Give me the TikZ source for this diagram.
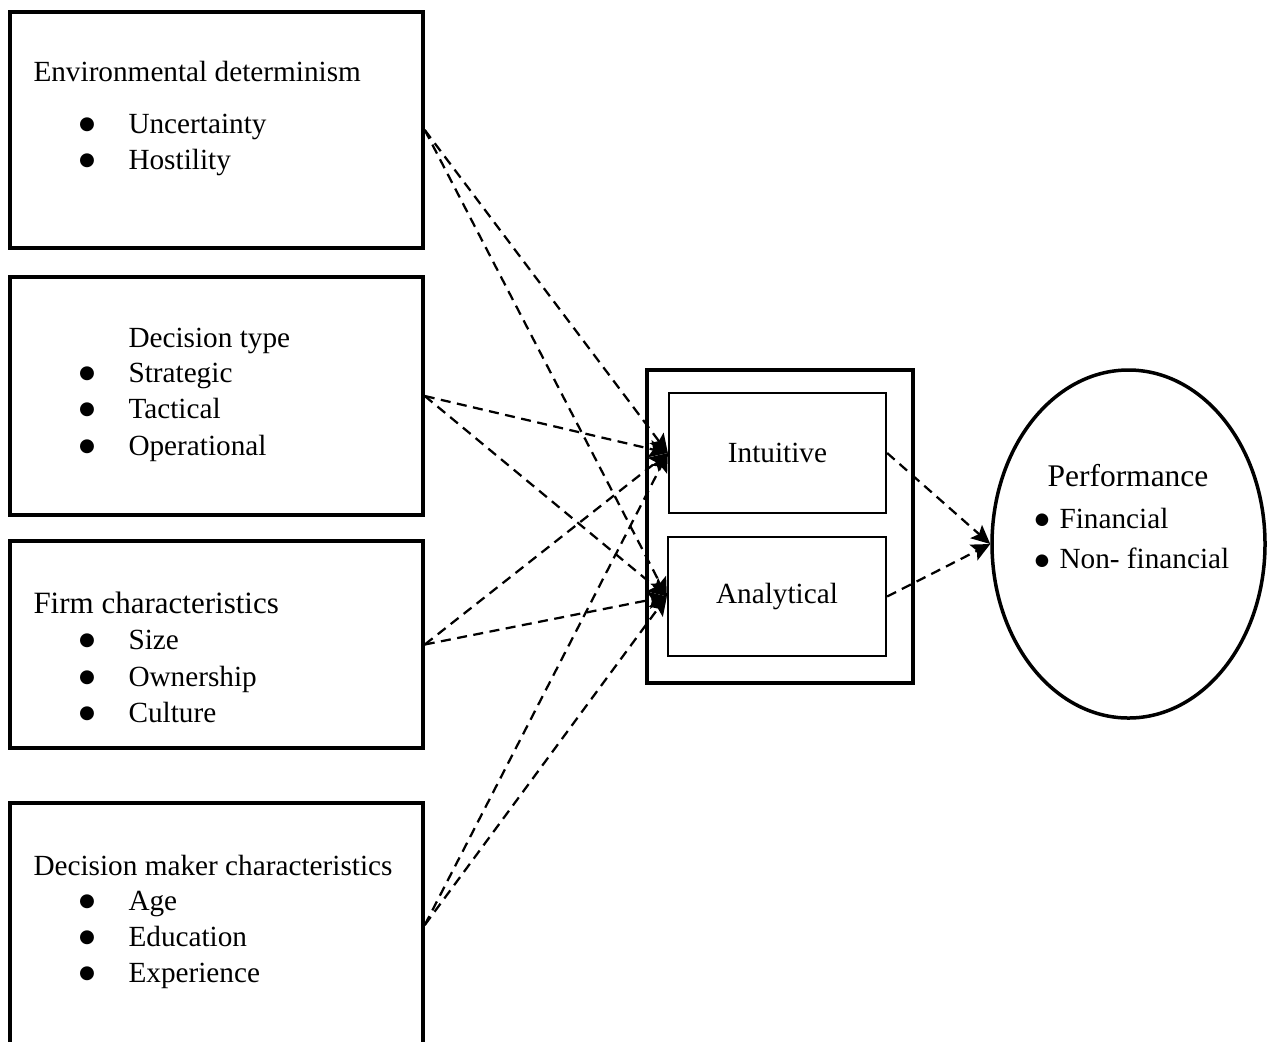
\documentclass[tikz,border=0pt]{standalone}
\usepackage{fontspec}
\setmainfont{Liberation Serif}
\newfontfamily\symfont{DejaVu Sans}
\usetikzlibrary{arrows.meta,shapes.geometric}
\begin{document}
\begin{tikzpicture}[x=0.4pt,y=-0.4pt,
  outerbox/.style={draw, line width=1.4pt, inner sep=0pt},
  innerbox/.style={draw, line width=0.9pt, inner sep=0pt, font=\fontsize{11.7}{14}\selectfont},
  txt/.style={anchor=base west, inner sep=0pt, font=\fontsize{11.7}{14}\selectfont},
  dot/.style={anchor=base, inner sep=0pt, font=\symfont\fontsize{7.3}{8}\selectfont},
  pdot/.style={anchor=base, inner sep=0pt, font=\symfont\fontsize{6.6}{7}\selectfont},
  dep/.style={line width=0.9pt, dash pattern=on 4pt off 2.6pt,
    -{Stealth[length=7.5pt,width=7pt,inset=1.5pt]}}
]
\clip (0,0) rectangle (1270,1041);

% factor boxes on the left
\node[outerbox, minimum width=165.2pt, minimum height=94.4pt] (env) at (216.5,130) {};
\node[outerbox, minimum width=165.2pt, minimum height=95.2pt] (dtype) at (216.5,396) {};
\node[outerbox, minimum width=165.2pt, minimum height=82.8pt] (firm) at (216.5,644.5) {};
\node[outerbox, minimum width=165.2pt, minimum height=97.6pt] (maker) at (216.5,925) {};

% environmental determinism
\node[txt] (envh) at (33,81) {Environmental determinism};
\node[dot] (envb1) at (87,129) {●};
\node[txt] (envi1) at (128,133) {Uncertainty};
\node[dot] (envb2) at (87,165) {●};
\node[txt] (envi2) at (128,169) {Hostility};

% decision type
\node[txt] (dth) at (128,347) {Decision type};
\node[dot] (dtb1) at (87,378) {●};
\node[txt] (dti1) at (128,382) {Strategic};
\node[dot] (dtb2) at (87,414) {●};
\node[txt] (dti2) at (128,418) {Tactical};
\node[dot] (dtb3) at (87,451) {●};
\node[txt] (dti3) at (128,455) {Operational};

% firm characteristics
\node[txt, font=\fontsize{12.4}{15}\selectfont] (fch) at (33,613) {Firm characteristics};
\node[dot] (fcb1) at (87,645) {●};
\node[txt] (fci1) at (128,649) {Size};
\node[dot] (fcb2) at (87,682) {●};
\node[txt] (fci2) at (128,686) {Ownership};
\node[dot] (fcb3) at (87,718) {●};
\node[txt] (fci3) at (128,722) {Culture};

% decision maker characteristics
\node[txt] (dmh) at (33,875) {Decision maker characteristics};
\node[dot] (dmb1) at (87,906) {●};
\node[txt] (dmi1) at (128,910) {Age};
\node[dot] (dmb2) at (87,942) {●};
\node[txt] (dmi2) at (128,946) {Education};
\node[dot] (dmb3) at (87,978) {●};
\node[txt] (dmi3) at (128,982) {Experience};

% decision styles
\node[outerbox, minimum width=106.4pt, minimum height=125.2pt] (style) at (780,526.5) {};
\node[innerbox, minimum width=86.8pt, minimum height=48pt] (int) at (777.5,453) {Intuitive};
\node[innerbox, minimum width=87.2pt, minimum height=47.6pt] (ana) at (777,596.5) {Analytical};

% performance
\node[draw, ellipse, line width=1.4pt, inner sep=0pt,
      minimum width=109.2pt, minimum height=139.2pt] (perf) at (1128.5,544) {};
\node[txt, font=\fontsize{12.6}{15}\selectfont] (perfh) at (1047,486) {Performance};
\node[pdot] (pb1) at (1042,524) {●};
\node[txt] (pi1) at (1059,528) {Financial};
\node[pdot] (pb2) at (1042,565) {●};
\node[txt] (pi2) at (1059,568) {Non- financial};

% relationships
\foreach \src in {env,dtype,firm,maker}{
  \draw[dep] (\src.east) -- (int.west);
  \draw[dep] (\src.east) -- (ana.west);
}
\draw[dep] (int.east) -- (perf.west);
\draw[dep] (ana.east) -- (perf.west);
\end{tikzpicture}
\end{document}
